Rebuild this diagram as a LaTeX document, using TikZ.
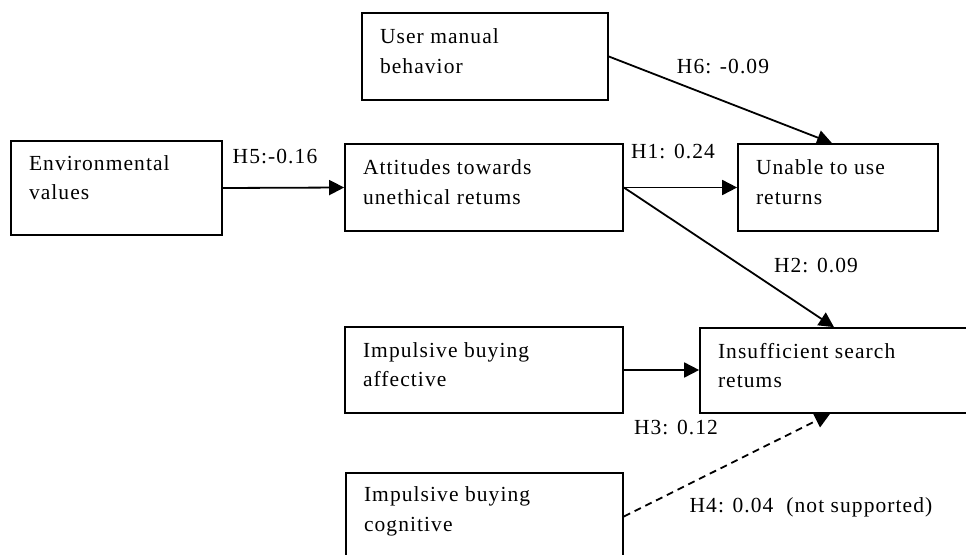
\documentclass[tikz,border=0pt]{standalone}
\usepackage{fontspec}
\setmainfont[LetterSpace=5]{Liberation Serif}
\usetikzlibrary{arrows.meta}
\newcommand\bxt[3][0pt]{\raisebox{#1}[0pt][0pt]{\parbox[c]{#2}{\raggedright #3}}}
\tikzset{
  boxnode/.style={draw=black, line width=1.7pt, inner sep=0pt, rectangle},
  arr/.style={line width=1.8pt, -{Triangle[length=15pt,width=15pt]}},
  lbl/.style={inner sep=0pt}
}
\begin{document}
\begin{tikzpicture}[x=1pt,y=-1pt,every node/.style={font=\fontsize{21.5}{29.5}\selectfont}]
\useasboundingbox[fill=white] (0,0) rectangle (966,554);
\node[boxnode, minimum width=246pt, minimum height=87pt] (user) at (485,56.5) {\bxt{210pt}{User manual\\behavior}};
\node[boxnode, minimum width=211pt, minimum height=94pt] (env) at (116.5,188) {\bxt[5pt]{175pt}{Environmental\\values}};
\node[boxnode, minimum width=278pt, minimum height=87pt] (att) at (484,187.5) {\bxt{242pt}{Attitudes towards\\unethical retums}};
\node[boxnode, minimum width=200pt, minimum height=87pt] (unable) at (838,187.5) {\bxt{164pt}{Unable to use\\returns}};
\node[boxnode, minimum width=272pt, minimum height=85pt] (ins) at (836,370.5) {\bxt{236pt}{Insufficient search\\retums}};
\node[boxnode, minimum width=278pt, minimum height=86pt] (aff) at (484,370) {\bxt{242pt}{Impulsive buying\\affective}};
\node[boxnode, minimum width=277pt, minimum height=87pt] (cog) at (484.5,516.5) {\bxt{241pt}{Impulsive buying\\cognitive}};

\draw[arr] (env.east) -- (att.west);
\draw[arr] (att.east) -- (unable.west);
\draw[arr] (user.east) -- ([xshift=-6pt]unable.north);
\draw[arr] (att.east) -- ([xshift=-2pt]ins.north);
\draw[arr] (aff.east) -- (aff.east -| ins.west);
\draw[arr, dash pattern=on 7pt off 5pt] (cog.east) -- ([xshift=-6pt]ins.south);

\node[lbl] (l5) at (275,157) {H5:-0.16};
\node[lbl] (l1) at (673,152) {H1: 0.24};
\node[lbl] (l6) at (723,67) {H6: -0.09};
\node[lbl] (l2) at (816,265) {H2: 0.09};
\node[lbl] (l3) at (676,427) {H3: 0.12};
\node[lbl] (l4) at (811,507) {H4: 0.04\ \ (not supported)};
\end{tikzpicture}
\end{document}
